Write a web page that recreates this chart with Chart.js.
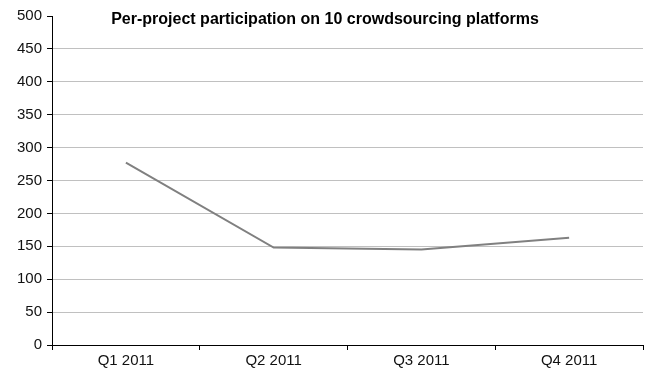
<!DOCTYPE html>
<html>
<head>
<meta charset="utf-8">
<script src="https://cdn.jsdelivr.net/npm/chart.js@4"></script>
<style>
  html, body { margin: 0; padding: 0; background: #fff; }
  #wrap { width: 659px; height: 379px; }
</style>
</head>
<body>
<div id="wrap"><canvas id="participation" width="659" height="379"></canvas></div>
<script>
const quarters = ['Q1 2011', 'Q2 2011', 'Q3 2011', 'Q4 2011'];
const participation = [277, 148, 145, 163];
const chartTitle = 'Per-project participation on 10 crowdsourcing platforms';

// title sits inside the plot area, so draw it by hand
const insideTitle = {
    id: 'insideTitle',
    afterDraw(chart) {
        const ctx = chart.ctx;
        ctx.save();
        ctx.font = 'bold 16px "Liberation Sans", Arial, sans-serif';
        ctx.fillStyle = '#000';
        ctx.textAlign = 'center';
        ctx.textBaseline = 'middle';
        ctx.fillText(chartTitle, 325, 20);
        ctx.restore();
    }
};

new Chart(document.getElementById('participation'), {
    type: 'line',
    data: {
        labels: quarters,
        datasets: [{
            data: participation,
            borderColor: '#808080',
            borderWidth: 2,
            pointRadius: 0,
            tension: 0,
        }]
    },
    options: {
        responsive: false,
        animation: false,
        layout: {
            padding: { top: 16, right: 16, bottom: 7, left: 12 }
        },
        plugins: {
            legend: { display: false },
            tooltip: { enabled: false },
        },
        scales: {
            x: {
                offset: true,
                grid: {
                    offset: true,
                    drawOnChartArea: false,
                    drawTicks: true,
                    tickLength: 5,
                    tickColor: '#000',
                },
                border: { display: true, color: '#000', width: 1 },
                ticks: {
                    color: '#111',
                    padding: 2,
                    font: { size: 15, family: '"Liberation Sans", Arial, sans-serif' },
                    maxRotation: 0,
                }
            },
            y: {
                min: 0,
                max: 500,
                grid: {
                    color: (c) => c.tick && c.tick.value === 500 ? 'rgba(0,0,0,0)' : '#c0c0c0',
                    tickColor: '#000',
                    tickLength: 5,
                },
                border: { display: true, color: '#000', width: 1 },
                ticks: {
                    stepSize: 50,
                    color: '#111',
                    padding: 5,
                    font: { size: 15, family: '"Liberation Sans", Arial, sans-serif' },
                }
            }
        }
    },
    plugins: [insideTitle],
});
</script>
</body>
</html>
